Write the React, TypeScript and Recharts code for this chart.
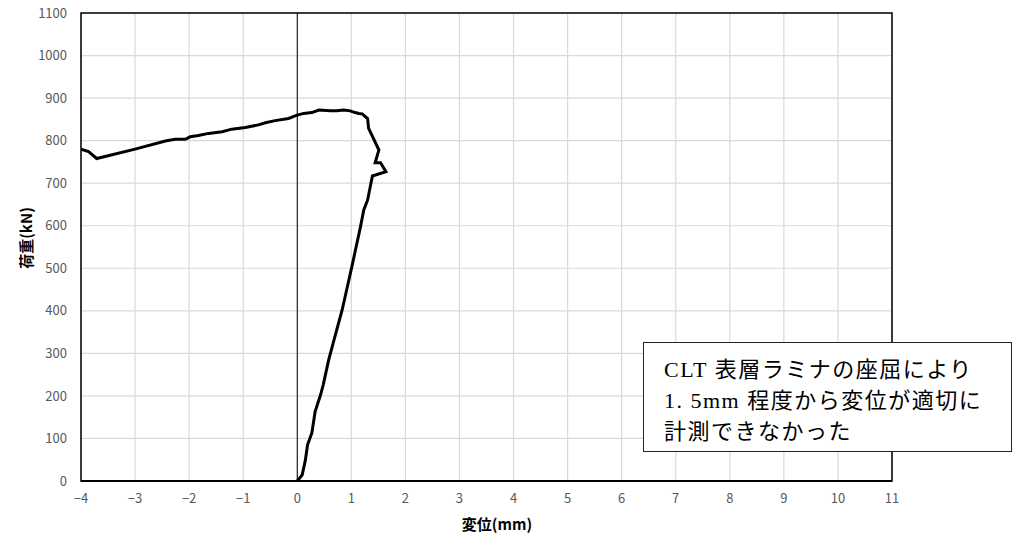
import {
  LineChart,
  Line,
  XAxis,
  YAxis,
  CartesianGrid,
  ReferenceLine,
  ReferenceArea,
  Label,
} from 'recharts';

// load path, in the order it was recorded
const dispMm = [
  0, 0.09, 0.15, 0.19, 0.27, 0.33, 0.43, 0.48, 0.58, 0.67, 0.83, 1.01, 1.17, 1.23, 1.3, 1.39,
  1.64, 1.54, 1.44, 1.51, 1.32, 1.3, 1.2, 1.14, 1.07, 0.98, 0.86, 0.73, 0.61, 0.4, 0.27, 0.12,
  0, -0.04, -0.16, -0.41, -0.59, -0.72, -0.96, -1.21, -1.39, -1.64, -1.83, -1.98, -2.07, -2.26,
  -2.44, -3.0, -3.71, -3.86, -4.0,
];
const loadKn = [
  0, 14, 49, 85, 113, 163, 202, 226, 284, 327, 402, 504, 598, 637, 660, 717,
  727, 748, 748, 778, 829, 852, 863, 864, 866, 870, 872, 870, 870, 872, 866, 864,
  860, 858, 852, 847, 842, 837, 831, 827, 821, 817, 812, 809, 803, 803,
  799, 780, 758, 774, 780,
];

const xTicks = [-4, -3, -2, -1, 0, 1, 2, 3, 4, 5, 6, 7, 8, 9, 10, 11];
const yTicks = [0, 100, 200, 300, 400, 500, 600, 700, 800, 900, 1000, 1100];

const xTitle = '変位(mm)';
const yTitle = '荷重(kN)';
const noteLines = ['CLT 表層ラミナの座屈により', '1. 5mm 程度から変位が適切に', '計測できなかった'];

const chartData = dispMm.map((d, i) => ({ d, p: loadKn[i] }));

const tickStyle = { fill: '#595959', fontSize: 13, fontFamily: '"Noto Sans CJK JP", sans-serif' };
const fmtX = (v: number) => (v < 0 ? '\u2212' + Math.abs(v) : String(v));

export default function App() {
  return (
    <div style={{ position: 'absolute', left: 0, top: 0, width: 1013, height: 540, background: '#fff' }}>
      <LineChart
        width={1013}
        height={540}
        data={chartData}
        margin={{ top: 13, right: 121, bottom: 0, left: 0 }}
      >
        <CartesianGrid stroke="#d9d9d9" strokeWidth={1.2} />
        <XAxis
          dataKey="d"
          type="number"
          domain={[-4, 11]}
          ticks={xTicks}
          allowDataOverflow
          tickFormatter={fmtX}
          tick={tickStyle}
          tickLine={false}
          tickMargin={7}
          axisLine={{ stroke: '#000', strokeWidth: 2 }}
          height={59}
        >
          <Label
            content={() => (
              <text
                x={497}
                y={523}
                textAnchor="middle"
                dominantBaseline="central"
                fontSize={15}
                fontWeight={600}
                fill="#000"
                fontFamily='"Noto Sans CJK JP", sans-serif'
              >
                {xTitle}
              </text>
            )}
          />
        </XAxis>
        <YAxis
          type="number"
          domain={[0, 1100]}
          ticks={yTicks}
          allowDataOverflow
          tick={tickStyle}
          tickLine={false}
          tickMargin={8}
          axisLine={false}
          width={81}
        >
          <Label
            content={() => (
              <text
                x={25}
                y={238}
                transform="rotate(-90, 25, 238)"
                textAnchor="middle"
                dominantBaseline="central"
                fontSize={15}
                fontWeight={600}
                fill="#000"
                fontFamily='"Noto Sans CJK JP", sans-serif'
              >
                {yTitle}
              </text>
            )}
          />
        </YAxis>
        <ReferenceArea x1={-4} x2={11} y1={0} y2={1100} fill="none" stroke="#000" strokeWidth={1.5} />
        <ReferenceLine x={0} stroke="#000" strokeWidth={1} />
        <Line
          dataKey="p"
          type="linear"
          stroke="#000"
          strokeWidth={3}
          dot={false}
          isAnimationActive={false}
        />
      </LineChart>
      <div
        style={{
          position: 'absolute',
          left: 643,
          top: 342,
          width: 369,
          height: 110,
          boxSizing: 'border-box',
          border: '1.5px solid #222',
          background: '#fff',
          padding: '11px 0 0 20px',
          fontFamily: '"Liberation Serif", "Noto Sans CJK JP", serif',
          fontSize: 22,
          letterSpacing: 1.5,
          lineHeight: '31px',
          color: '#000',
          whiteSpace: 'nowrap',
        }}
      >
        {noteLines.map((t) => (
          <div key={t}>{t}</div>
        ))}
      </div>
    </div>
  );
}
